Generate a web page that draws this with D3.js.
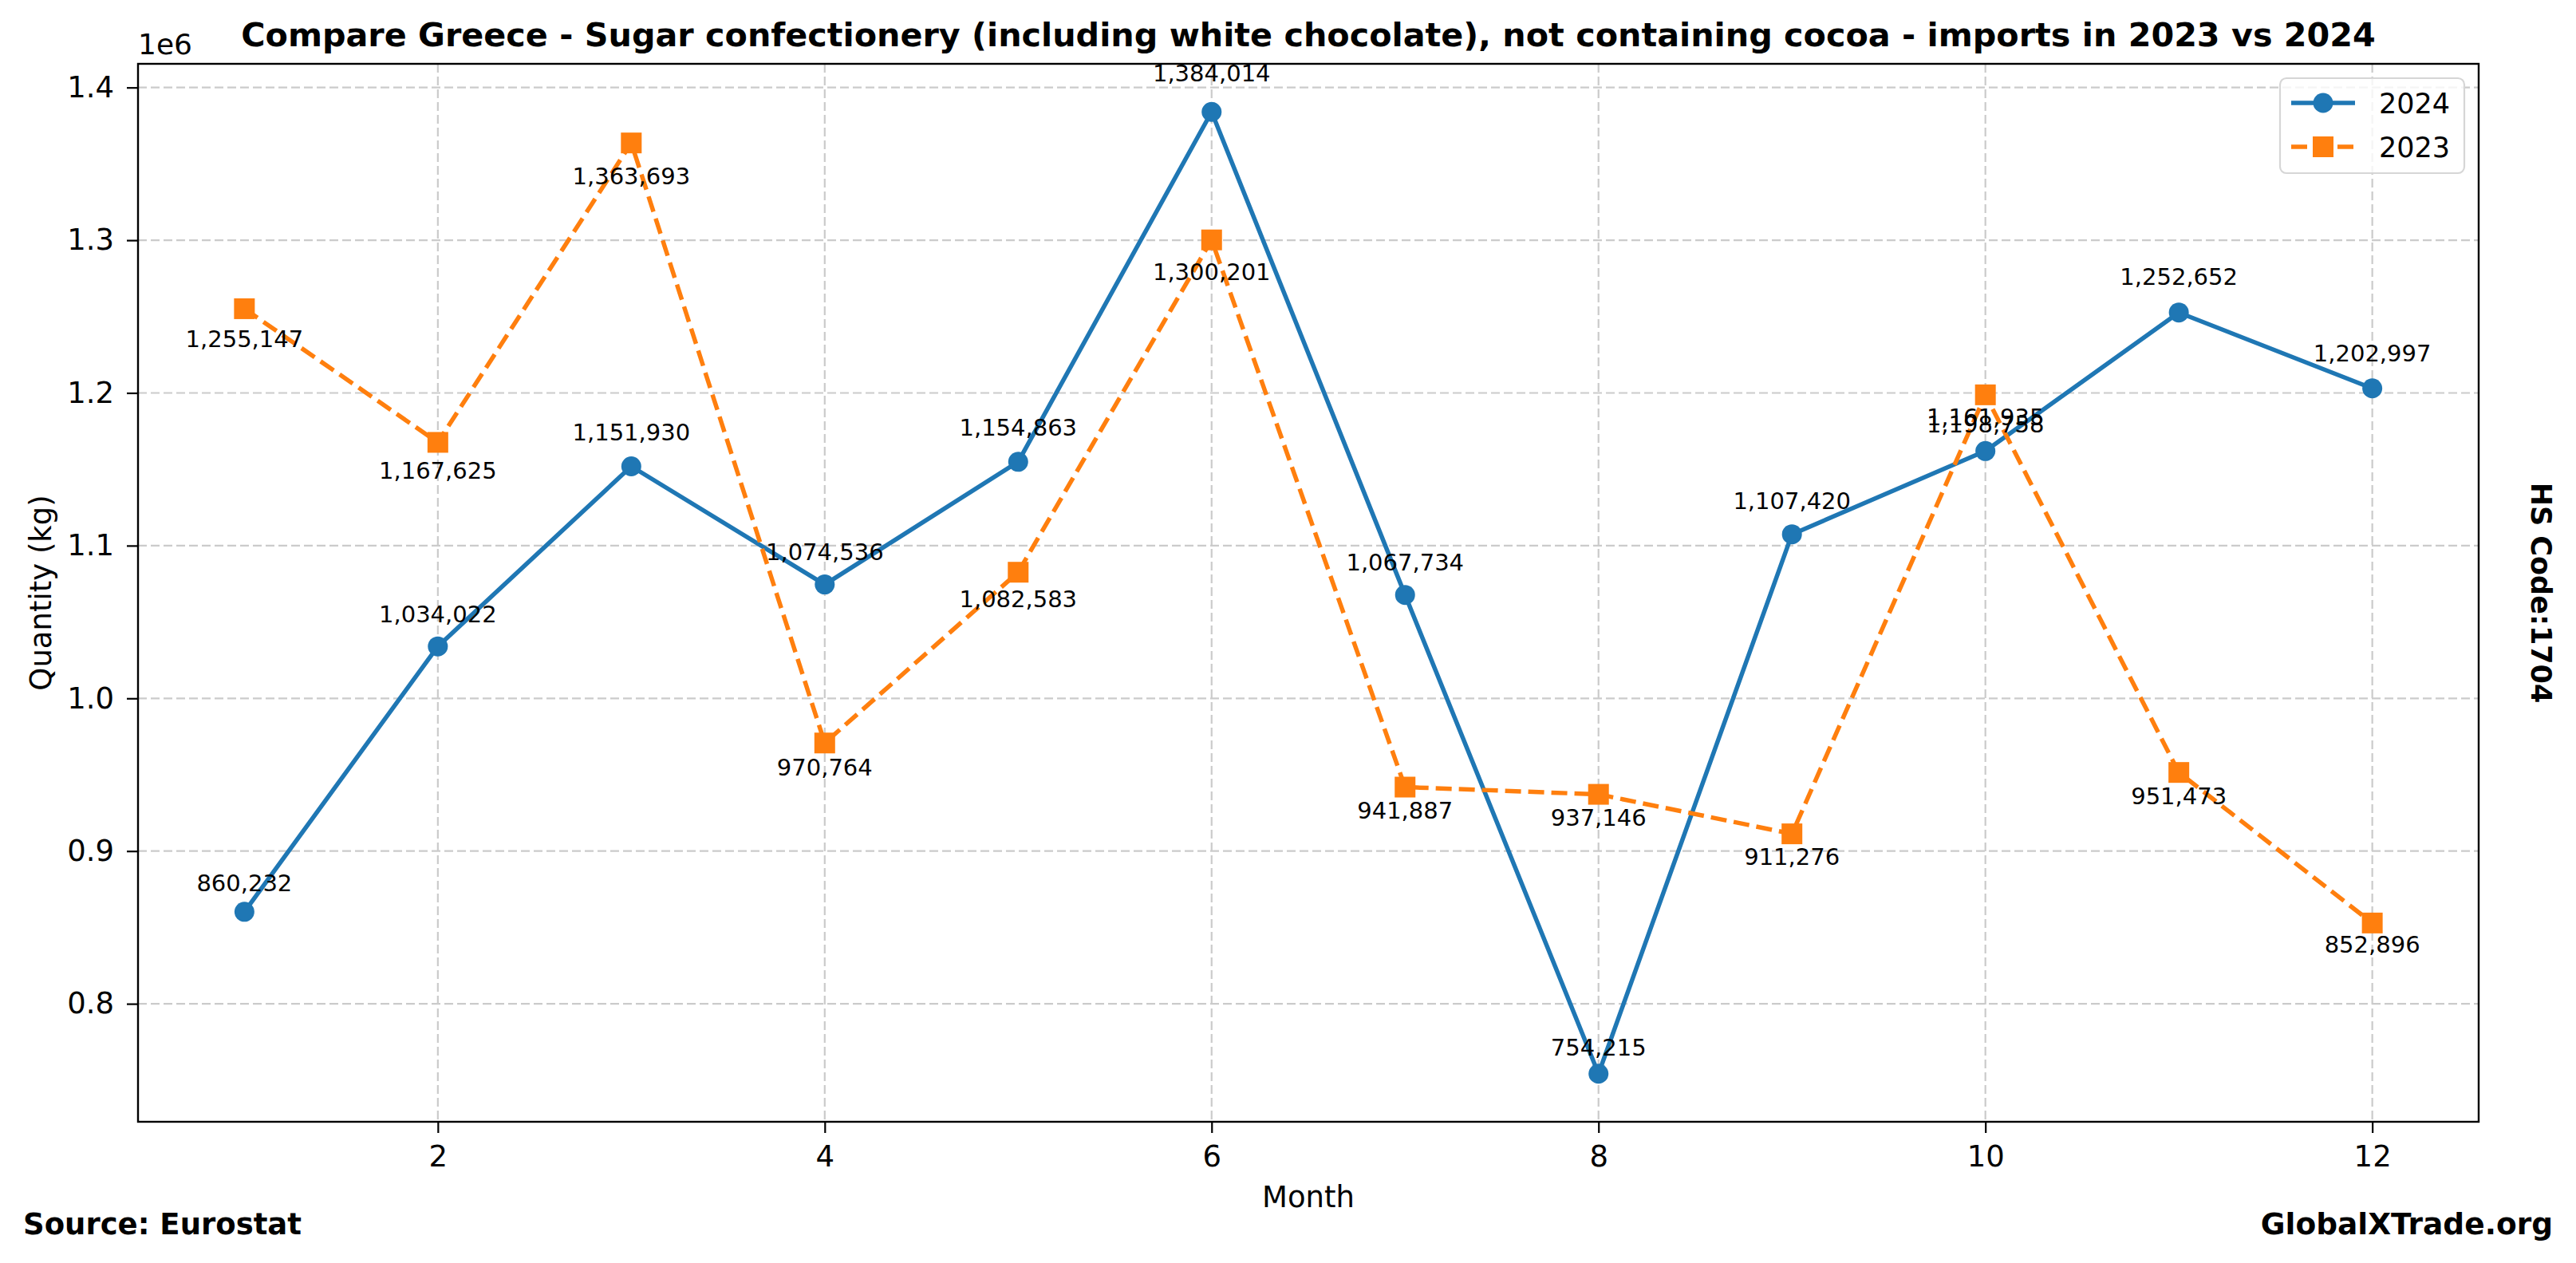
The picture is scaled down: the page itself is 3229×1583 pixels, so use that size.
<!DOCTYPE html>
<html>
<head>
<meta charset="utf-8">
<script src="https://cdn.jsdelivr.net/npm/d3@7"></script>
<style>
  body { margin: 0; background: #fff; }
  text { font-family: "DejaVu Sans", sans-serif; }
</style>
</head>
<body>
<div class="chartContainer"></div>
<script>
const months = [1, 2, 3, 4, 5, 6, 7, 8, 9, 10, 11, 12];
const values2024 = [860232, 1034022, 1151930, 1074536, 1154863, 1384014, 1067734, 754215, 1107420, 1161935, 1252652, 1202997];
const values2023 = [1255147, 1167625, 1363693, 970764, 1082583, 1300201, 941887, 937146, 911276, 1198758, 951473, 852896];
const xTicks = [2, 4, 6, 8, 10, 12];
const yTicks = [800000, 900000, 1000000, 1100000, 1200000, 1300000, 1400000];
const seriesNames = ["2024", "2023"];

const w = 3229;
const h = 1583;
const plotLeft = 173, plotRight = 3107, plotTop = 80, plotBottom = 1406;
const blue = "#1f77b4";
const orange = "#ff7f0e";

const svg = d3
  .select(".chartContainer")
  .append("svg")
  .attr("width", w)
  .attr("height", h);

// matplotlib style 5% margins
const xPad = (d3.max(months) - d3.min(months)) * 0.05;
const allVals = values2024.concat(values2023);
const yPad = (d3.max(allVals) - d3.min(allVals)) * 0.05;

const xScale = d3
  .scaleLinear()
  .domain([d3.min(months) - xPad, d3.max(months) + xPad])
  .range([plotLeft, plotRight]);

const yScale = d3
  .scaleLinear()
  .domain([d3.min(allVals) - yPad, d3.max(allVals) + yPad])
  .range([plotBottom, plotTop]);

// grid
const grid = svg.append("g").attr("stroke", "#cbcbcb").attr("stroke-width", 2.2).attr("stroke-dasharray", "11,5");
grid.selectAll(".gx").data(xTicks).enter().append("line")
  .attr("x1", (d) => xScale(d)).attr("x2", (d) => xScale(d))
  .attr("y1", plotTop).attr("y2", plotBottom);
grid.selectAll(".gy").data(yTicks).enter().append("line")
  .attr("y1", (d) => yScale(d)).attr("y2", (d) => yScale(d))
  .attr("x1", plotLeft).attr("x2", plotRight);

// axes
const xAxis = d3.axisBottom(xScale).tickValues(xTicks).tickSize(14).tickPadding(16);
const yAxis = d3.axisLeft(yScale).tickValues(yTicks).tickSize(14).tickPadding(16)
  .tickFormat((d) => (d / 1e6).toFixed(1));

const gx = svg.append("g").attr("transform", "translate(0," + plotBottom + ")").call(xAxis);
const gy = svg.append("g").attr("transform", "translate(" + plotLeft + ",0)").call(yAxis);
[gx, gy].forEach((g) => {
  g.select(".domain").remove();
  g.selectAll(".tick line").attr("stroke", "#000").attr("stroke-width", 2.2);
  g.selectAll(".tick text").attr("font-size", 37).attr("fill", "#000").style("font-family", "DejaVu Sans");
});

// lines
const line = d3.line().x((d) => xScale(d[0])).y((d) => yScale(d[1]));
const data2024 = months.map((m, i) => [m, values2024[i]]);
const data2023 = months.map((m, i) => [m, values2023[i]]);

svg.append("path").datum(data2024)
  .attr("d", line).attr("fill", "none").attr("stroke", blue).attr("stroke-width", 5.5)
  .attr("stroke-linejoin", "round");
svg.selectAll(".dot").data(data2024).enter().append("circle")
  .attr("cx", (d) => xScale(d[0])).attr("cy", (d) => yScale(d[1]))
  .attr("r", 12.5).attr("fill", blue);

svg.append("path").datum(data2023)
  .attr("d", line).attr("fill", "none").attr("stroke", orange).attr("stroke-width", 5.5)
  .attr("stroke-dasharray", "20,9");
svg.selectAll(".sq").data(data2023).enter().append("rect")
  .attr("x", (d) => xScale(d[0]) - 13).attr("y", (d) => yScale(d[1]) - 13)
  .attr("width", 26).attr("height", 26).attr("fill", orange);

// value labels (the two at month 10 overlap in the original too)
const fmt = d3.format(",");
svg.selectAll(".lab24").data(data2024).enter().append("text")
  .attr("x", (d) => xScale(d[0])).attr("y", (d) => yScale(d[1] * 1.0125) - 5)
  .attr("text-anchor", "middle").attr("font-size", 29).text((d) => fmt(d[1]));
svg.selectAll(".lab23").data(data2023).enter().append("text")
  .attr("x", (d) => xScale(d[0])).attr("y", (d) => yScale(d[1] * 0.985) + 12.5)
  .attr("text-anchor", "middle").attr("font-size", 29).text((d) => fmt(d[1]));

// frame
svg.append("rect").attr("x", plotLeft).attr("y", plotTop)
  .attr("width", plotRight - plotLeft).attr("height", plotBottom - plotTop)
  .attr("fill", "none").attr("stroke", "#000").attr("stroke-width", 2.4);

// legend
const legend = svg.append("g");
legend.append("rect").attr("x", 2858).attr("y", 98).attr("width", 231).attr("height", 119)
  .attr("rx", 8).attr("fill", "#fff").attr("fill-opacity", 0.8).attr("stroke", "#d6d6d6").attr("stroke-width", 2.2);
seriesNames.forEach((name, i) => {
  const ly = 129 + i * 55;
  const col = i === 0 ? blue : orange;
  legend.append("line").attr("x1", 2872).attr("x2", 2952).attr("y1", ly).attr("y2", ly)
    .attr("stroke", col).attr("stroke-width", 5.5).attr("stroke-dasharray", i === 0 ? null : "20,9");
  if (i === 0) {
    legend.append("circle").attr("cx", 2912).attr("cy", ly).attr("r", 12.5).attr("fill", col);
  } else {
    legend.append("rect").attr("x", 2899).attr("y", ly - 13).attr("width", 26).attr("height", 26).attr("fill", col);
  }
  legend.append("text").attr("x", 2982).attr("y", ly + 12.5).attr("font-size", 35).text(name);
});

// titles and notes
svg.append("text").attr("x", (plotLeft + plotRight) / 2).attr("y", 58).attr("text-anchor", "middle")
  .attr("font-size", 41.3).attr("font-weight", "bold")
  .text("Compare Greece - Sugar confectionery (including white chocolate), not containing cocoa - imports in 2023 vs 2024");
svg.append("text").attr("x", plotLeft).attr("y", 68).attr("font-size", 36).text("1e6");
svg.append("text").attr("x", (plotLeft + plotRight) / 2).attr("y", 1513).attr("text-anchor", "middle")
  .attr("font-size", 37).text("Month");
svg.append("text").attr("transform", "translate(64," + (plotTop + plotBottom) / 2 + ") rotate(-90)")
  .attr("text-anchor", "middle").attr("font-size", 37).text("Quantity (kg)");
svg.append("text").attr("transform", "translate(3173," + (plotTop + plotBottom) / 2 + ") rotate(90)")
  .attr("text-anchor", "middle").attr("font-size", 35).attr("font-weight", "bold").text("HS Code:1704");
svg.append("text").attr("x", 29).attr("y", 1547).attr("font-size", 37).attr("font-weight", "bold")
  .text("Source: Eurostat");
svg.append("text").attr("x", 3200).attr("y", 1547).attr("text-anchor", "end").attr("font-size", 37.5)
  .attr("font-weight", "bold").text("GlobalXTrade.org");
</script>
</body>
</html>
